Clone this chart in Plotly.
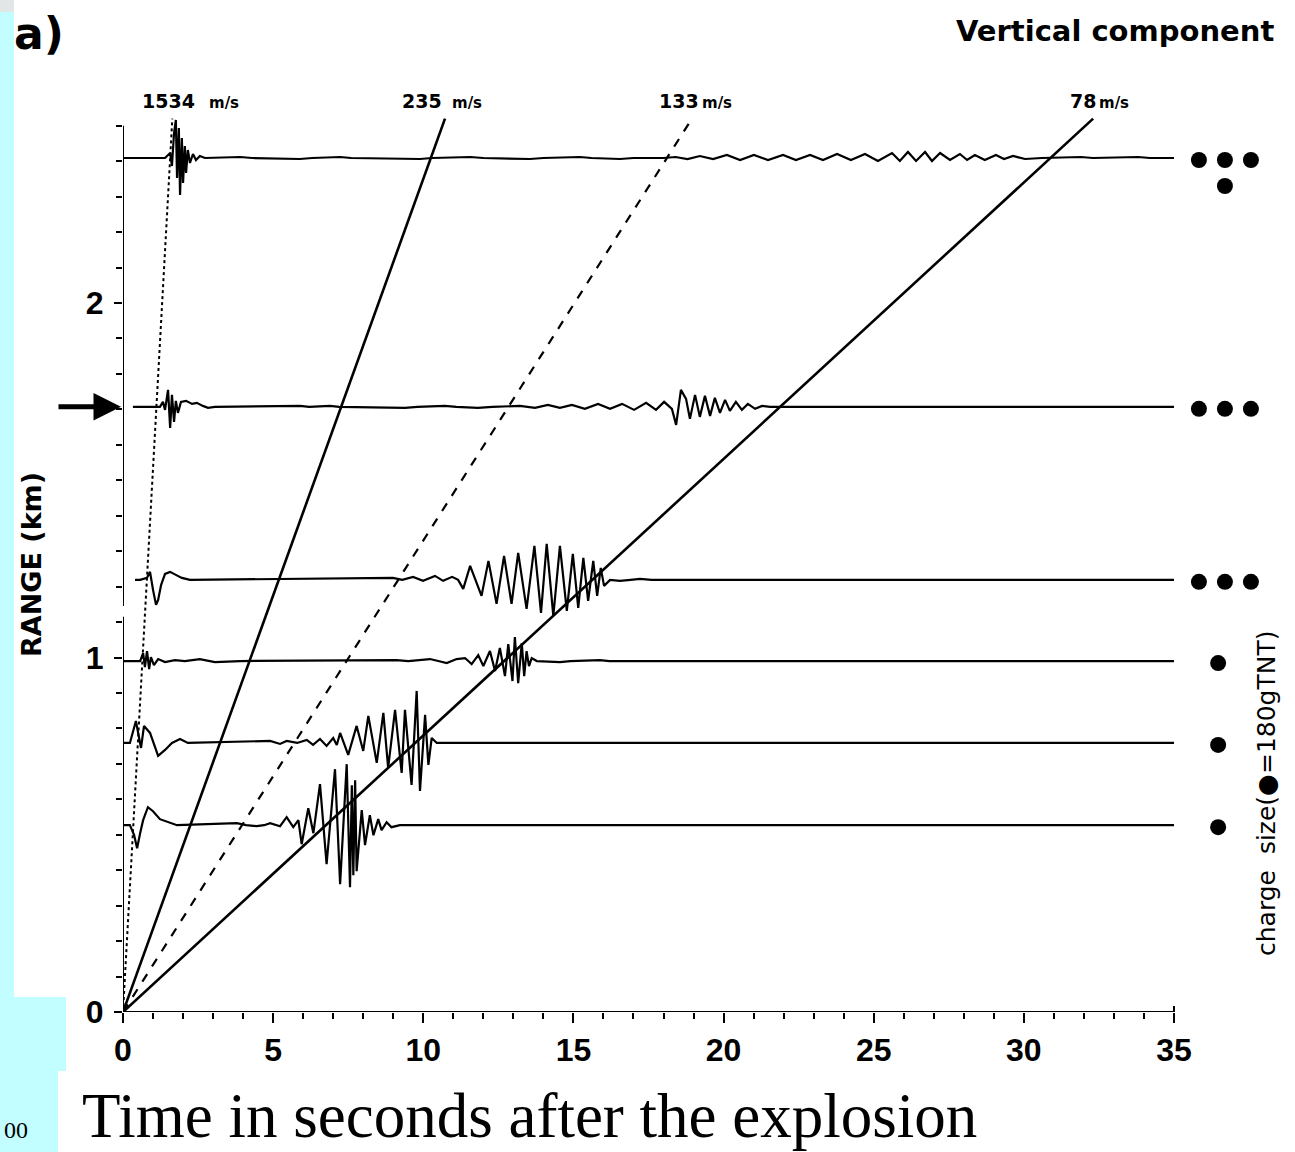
import plotly.graph_objects as go

# ---------------- data ----------------
TIME_TICKS = [0, 5, 10, 15, 20, 25, 30, 35]
TIME_MINOR = list(range(0, 36))
RANGE_TICKS = [0, 1, 2]
RANGE_MINOR = [round(0.1 * i, 1) for i in range(0, 26)]

VELOCITY_NUMBERS = ["1534", "235", "133", "78"]
VELOCITY_UNIT = "m/s"
VELOCITIES_KM_S = [1.534, 0.235, 0.133, 0.078]
VELOCITY_LINE_TOP_KM = 2.52

TRACE_RANGES_KM = [2.409, 1.707, 1.219, 0.990, 0.759, 0.527]
TRACE_START_S = [0.0, 0.33, 0.40, 0.0, 0.0, 0.0]
TRACE_END_S = 35.0
CHARGE_COUNTS = [4, 3, 3, 1, 1, 1]
ARROW_TRACE = 1

# (time s, amplitude in record units) samples of each seismogram
TRACE_1 = [(1.40, 0), (1.57, 5), (1.63, -8), (1.70, 25), (1.76, 38), (1.80, -20), (1.86, 30),
           (1.90, -37), (1.96, 20), (2.00, -25), (2.06, 12), (2.10, -15), (2.16, 8), (2.23, -5),
           (2.33, 4), (2.43, -2), (2.56, 2), (2.73, 0), (3.90, 1), (4.3, 0), (5.89, -1), (6.3, 0),
           (7.23, 1), (7.6, 0), (9.89, -1), (10.3, 0), (11.56, 1), (12.0, 0), (13.55, -1), (14.0, 0),
           (15.22, 1), (15.6, 0), (16.55, -1), (17.0, 0), (18.0, 0), (18.4, 1), (18.8, -1),
           (19.21, 2), (19.65, -1), (20.11, 3), (20.55, -2), (21.01, 3), (21.48, -2), (21.98, 3),
           (22.41, -2), (22.88, 3), (23.31, -2), (23.78, 4), (24.24, -2), (24.71, 4), (25.14, -3),
           (25.61, 5), (25.87, -3), (26.14, 6), (26.41, -3), (26.71, 6), (26.94, -3), (27.21, 5),
           (27.54, -2), (27.87, 4), (28.11, -2), (28.37, 3), (28.70, -2), (29.07, 3), (29.34, -1),
           (29.64, 2), (30.04, -1), (30.6, 0), (31.9, 1), (32.3, 0), (33.8, 1), (34.2, 0)]
TRACE_2 = [(1.23, 0), (1.33, 5), (1.40, -3), (1.50, 17), (1.57, -21), (1.63, 12), (1.70, -15),
           (1.76, 6), (1.83, -6), (1.93, 5), (2.10, 6), (2.30, 3), (2.46, 4), (2.66, 1), (2.83, -1),
           (3.06, 0), (5.89, 1), (6.2, 0), (6.89, 1), (7.2, 0), (9.39, -1), (9.8, 0), (10.72, 1),
           (11.1, 0), (11.82, -1), (12.3, 0), (13.22, 1), (13.72, -1), (14.15, 2), (14.55, -1),
           (14.95, 2), (15.38, -2), (15.82, 3), (16.22, -2), (16.62, 3), (17.02, -3), (17.42, 4),
           (17.75, -3), (18.02, 5), (18.28, -2), (18.42, -18), (18.58, 17), (18.75, 8), (18.88, -12),
           (19.05, 12), (19.21, -10), (19.38, 11), (19.55, -9), (19.71, 9), (19.88, -6), (20.05, 7),
           (20.21, -4), (20.41, 5), (20.61, -3), (20.81, 3), (21.05, -2), (21.28, 1), (21.55, 0)]
TRACE_3 = [(0.57, 0), (0.80, 2), (0.90, 8), (1.00, -10), (1.10, -25), (1.17, -20), (1.27, -5),
           (1.40, 6), (1.57, 8), (1.76, 5), (1.96, 2), (2.23, 0), (8.99, 2), (9.3, 0), (9.66, 3),
           (9.99, -1), (10.39, 4), (10.66, -1), (10.96, 3), (11.16, 0), (11.33, -9), (11.56, 14),
           (11.94, -16), (12.17, 19), (12.44, -24), (12.69, 24), (12.94, -24), (13.16, 27),
           (13.44, -29), (13.70, 34), (13.92, -33), (14.11, 36), (14.33, -36), (14.55, 34),
           (14.78, -31), (14.98, 26), (15.16, -28), (15.33, 22), (15.49, -21), (15.66, 19),
           (15.79, -16), (15.91, 12), (16.02, -6), (16.22, 0), (16.55, -1), (16.9, 0), (17.22, 1),
           (17.6, 0)]
TRACE_4 = [(0.57, 0), (0.67, 8), (0.73, -6), (0.80, 10), (0.87, -8), (0.93, 4), (1.03, -4),
           (1.17, 2), (1.40, -1), (1.73, 1), (2.06, 0), (2.56, 2), (3.06, -1), (3.90, 0), (9.11, 1),
           (9.5, 0), (10.22, 2), (10.5, 0), (10.78, -2), (11.11, 2), (11.39, 3), (11.61, -3),
           (11.83, 6), (12.00, -5), (12.22, 10), (12.39, -10), (12.55, 13), (12.72, -15),
           (12.83, 17), (12.97, -20), (13.05, 24), (13.16, -22), (13.28, 18), (13.36, -15),
           (13.44, 10), (13.52, -5), (13.61, 3), (13.78, 0), (14.55, -1), (14.9, 0), (15.88, 1),
           (16.2, 0)]
TRACE_5 = [(0.23, 0), (0.43, 22), (0.53, 8), (0.60, -5), (0.70, 17), (0.90, 10), (1.17, -13),
           (1.40, -7), (1.63, 0), (1.90, 4), (2.16, 0), (4.90, 2), (5.23, -1), (5.45, 2), (5.8, 0),
           (6.12, 3), (6.33, -2), (6.56, 4), (6.78, -3), (7.00, 5), (7.12, -2), (7.23, 10),
           (7.50, -12), (7.78, 17), (8.00, -8), (8.17, 27), (8.45, -20), (8.67, 30), (8.83, -25),
           (9.06, 33), (9.28, -30), (9.39, 33), (9.61, -42), (9.78, 52), (9.89, -48), (10.06, 28),
           (10.17, -22), (10.28, 5), (10.45, 0)]
TRACE_6 = [(0.23, 0), (0.37, -10), (0.47, -23), (0.57, -8), (0.67, 5), (0.83, 18), (1.00, 14),
           (1.23, 6), (1.50, 3), (1.80, 0), (3.79, 2), (4.1, 0), (4.45, -1), (4.7, 0), (4.90, 2),
           (5.23, -1), (5.45, 8), (5.67, -2), (5.84, 5), (5.95, -19), (6.17, 17), (6.34, -8),
           (6.56, 41), (6.78, -39), (7.06, 56), (7.23, -59), (7.45, 61), (7.56, -62), (7.62, 40),
           (7.67, -50), (7.73, 45), (7.78, -46), (7.95, 15), (8.06, -20), (8.22, 10), (8.34, -10),
           (8.50, 6), (8.61, -5), (8.78, 3), (8.94, -2), (9.22, 0)]
TRACES = [TRACE_1, TRACE_2, TRACE_3, TRACE_4, TRACE_5, TRACE_6]

# ---------------- layout geometry ----------------
W, H = 1295, 1152
ML, MR, MT, MB = 123, 0, 0, 140
PLOT_W = W - ML - MR
PLOT_H = H - MT - MB
PX_PER_S = 1051 / 35.0
PX_PER_KM = 354.5
X_MAX = PLOT_W / PX_PER_S
Y_MAX = PLOT_H / PX_PER_KM
AMP_KM_PER_UNIT = 1.0 / PX_PER_KM


def pxx(x):
    return (x - ML) / PLOT_W


def pxy(y):
    return (MT + PLOT_H - y) / PLOT_H


BOLD = "DejaVu Sans"
NARROW = "Liberation Sans Narrow, Liberation Sans, Arial Narrow, sans-serif"
CYAN = "#C2FEFF"

fig = go.Figure()

# velocity lines
vel_styles = [dict(dash="dot", width=2), dict(dash="solid", width=2.6),
              dict(dash="dash", width=2.2), dict(dash="solid", width=2.6)]
for v, st in zip(VELOCITIES_KM_S, vel_styles):
    t_end = VELOCITY_LINE_TOP_KM / v
    fig.add_trace(go.Scatter(x=[0, t_end], y=[0, VELOCITY_LINE_TOP_KM], mode="lines",
                             line=dict(color="black", width=st["width"], dash=st["dash"]),
                             hoverinfo="skip", showlegend=False))

# seismograms
for r, t0, samples in zip(TRACE_RANGES_KM, TRACE_START_S, TRACES):
    xs = [t0] + [s[0] for s in samples] + [TRACE_END_S]
    ys = [r] + [r + s[1] * AMP_KM_PER_UNIT for s in samples] + [r]
    fig.add_trace(go.Scatter(x=xs, y=ys, mode="lines", line=dict(color="black", width=2.2),
                             hoverinfo="skip", showlegend=False))

# charge size dots
dot_step_s = 26 / PX_PER_S
for r, n in zip(TRACE_RANGES_KM, CHARGE_COUNTS):
    if n == 1:
        xs, ys = [36.47], [r - 2 / PX_PER_KM]
    else:
        xs = [35.83 + i * dot_step_s for i in range(3)]
        ys = [r - 2 / PX_PER_KM] * 3
        if n == 4:
            xs.append(35.83 + dot_step_s)
            ys.append(r - 28 / PX_PER_KM)
    fig.add_trace(go.Scatter(x=xs, y=ys, mode="markers",
                             marker=dict(color="black", size=16, line=dict(width=0)),
                             hoverinfo="skip", showlegend=False))

shapes = [
    dict(type="line", xref="x", yref="y", x0=0, x1=35, y0=0, y1=0,
         line=dict(color="black", width=2)),
    dict(type="line", xref="x", yref="y", x0=35, x1=35, y0=0, y1=6 / PX_PER_KM,
         line=dict(color="black", width=2)),
    dict(type="line", xref="x", yref="y", x0=0, x1=0, y0=0, y1=1.115,
         line=dict(color="black", width=2)),
    dict(type="line", xref="x", yref="y", x0=0, x1=0, y0=1.145, y1=2.5,
         line=dict(color="black", width=2)),
    dict(type="rect", xref="paper", yref="paper", x0=pxx(0), x1=pxx(14), y0=pxy(997), y1=pxy(12),
         fillcolor=CYAN, line=dict(width=0), layer="below"),
    dict(type="rect", xref="paper", yref="paper", x0=pxx(0), x1=pxx(14), y0=pxy(12), y1=pxy(0),
         fillcolor="#E2E6E6", line=dict(width=0), layer="below"),
    dict(type="rect", xref="paper", yref="paper", x0=pxx(0), x1=pxx(66), y0=pxy(1071), y1=pxy(997),
         fillcolor=CYAN, line=dict(width=0), layer="below"),
    dict(type="rect", xref="paper", yref="paper", x0=pxx(0), x1=pxx(58), y0=pxy(1152), y1=pxy(1071),
         fillcolor=CYAN, line=dict(width=0), layer="below"),
]

annotations = []
num_x = [140, 400, 657, 1068]
unit_x = [207, 450, 700, 1097]
for num, nx, ux in zip(VELOCITY_NUMBERS, num_x, unit_x):
    annotations.append(dict(xref="paper", yref="paper", x=pxx(nx), y=pxy(101), xanchor="left",
                            yanchor="middle", showarrow=False, text=num,
                            font=dict(family=BOLD, size=19, color="black", weight="bold")))
    annotations.append(dict(xref="paper", yref="paper", x=pxx(ux), y=pxy(103), xanchor="left",
                            yanchor="middle", showarrow=False, text=VELOCITY_UNIT,
                            font=dict(family=BOLD, size=15, color="black", weight="bold")))

annotations += [
    dict(xref="paper", yref="paper", x=pxx(1276), y=pxy(31), xanchor="right", yanchor="middle",
         showarrow=False, text="Vertical component",
         font=dict(family=BOLD, size=29, color="black", weight="bold")),
    dict(xref="paper", yref="paper", x=pxx(12), y=pxy(33), xanchor="left", yanchor="middle",
         showarrow=False, text="a)", font=dict(family=BOLD, size=44, color="black", weight="bold")),
    dict(xref="paper", yref="paper", x=pxx(31), y=pxy(565), xanchor="center", yanchor="middle",
         showarrow=False, text="RANGE (km)", textangle=-90,
         font=dict(family=BOLD, size=27, color="black", weight="bold")),
    dict(xref="paper", yref="paper", x=pxx(1266), y=pxy(794), xanchor="center", yanchor="middle",
         showarrow=False, text="charge  size(\u25CF=180gTNT)", textangle=-90,
         font=dict(family=BOLD, size=25, color="black")),
    dict(xref="paper", yref="paper", x=pxx(80), y=pxy(1116), xanchor="left", yanchor="middle",
         showarrow=False, text="Time in seconds after the explosion",
         font=dict(family="Liberation Serif, Times New Roman, serif", size=63, color="black")),
    dict(xref="paper", yref="paper", x=pxx(2), y=pxy(1130), xanchor="left", yanchor="middle",
         showarrow=False, text="00",
         font=dict(family="Liberation Serif, Times New Roman, serif", size=24, color="black")),
    dict(xref="x", yref="y", x=0, y=TRACE_RANGES_KM[ARROW_TRACE], ax=-66, ay=0, text="",
         showarrow=True, arrowhead=2, arrowsize=1.1, arrowwidth=5, arrowcolor="black", standoff=2),
]

fig.update_layout(
    width=W, height=H, autosize=False,
    margin=dict(l=ML, r=MR, t=MT, b=MB, pad=0),
    paper_bgcolor="white", plot_bgcolor="white",
    showlegend=False,
    shapes=shapes, annotations=annotations,
    xaxis=dict(range=[0, X_MAX], showgrid=False, zeroline=False, showline=False,
               ticks="outside", tickvals=TIME_TICKS, ticklen=10, tickwidth=2,
               tickcolor="black", ticklabelstandoff=0,
               minor=dict(tickvals=TIME_MINOR, ticks="outside", ticklen=6, tickwidth=2,
                          tickcolor="black"),
               tickfont=dict(family=NARROW, size=32, color="black", weight="bold")),
    yaxis=dict(range=[0, Y_MAX], showgrid=False, zeroline=False, showline=False,
               ticks="outside", tickvals=RANGE_TICKS, ticklen=8, tickwidth=2, tickcolor="black",
               ticklabelstandoff=4,
               minor=dict(tickvals=RANGE_MINOR, ticks="outside", ticklen=6, tickwidth=2,
                          tickcolor="black"),
               tickfont=dict(family=NARROW, size=32, color="black", weight="bold")),
)

fig.write_html("out.html")
